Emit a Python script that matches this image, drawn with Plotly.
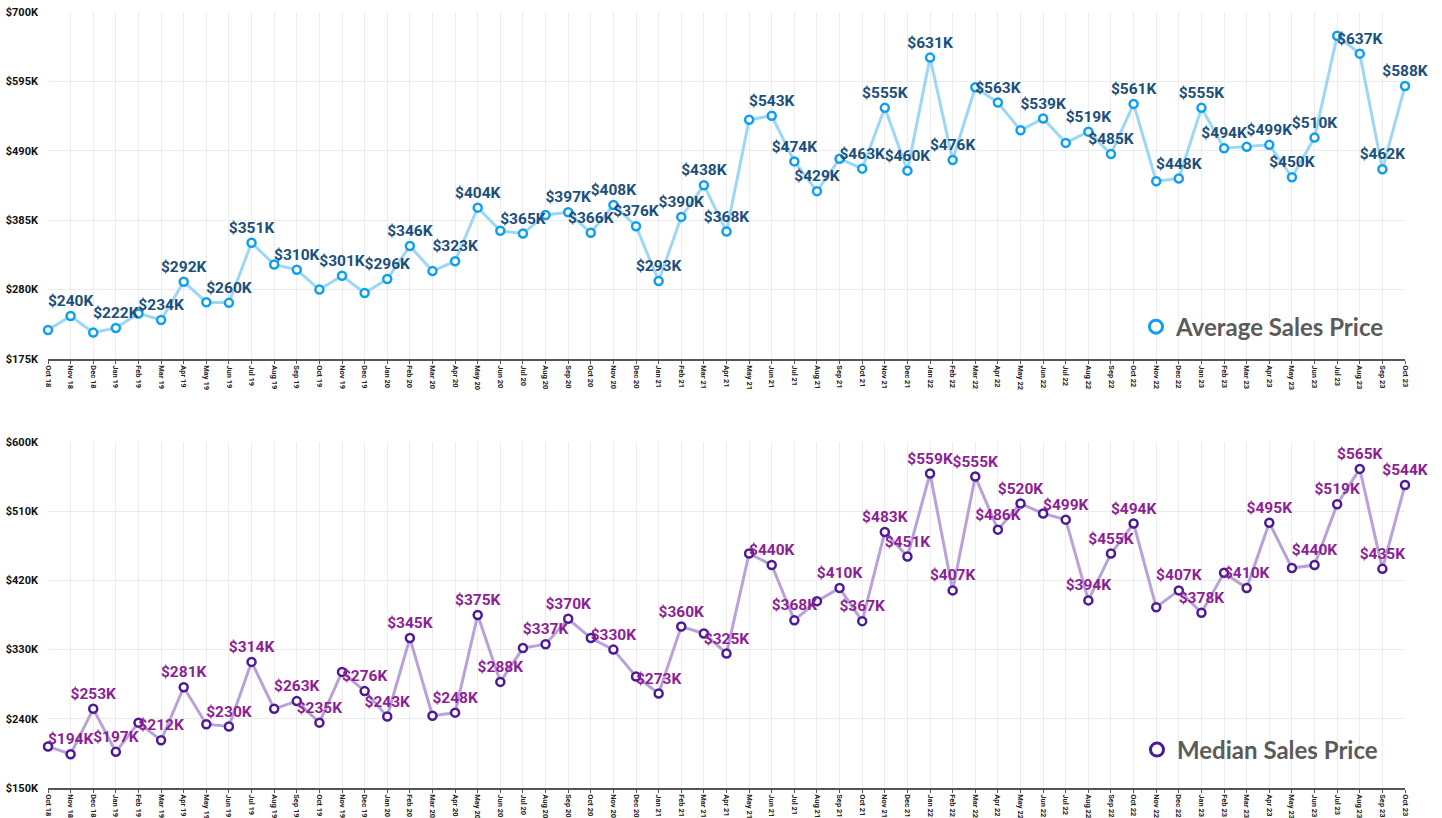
import plotly.graph_objects as go
from plotly.subplots import make_subplots

months = ["Oct 18", "Nov 18", "Dec 18", "Jan 19", "Feb 19", "Mar 19", "Apr 19", "May 19", "Jun 19", "Jul 19",
          "Aug 19", "Sep 19", "Oct 19", "Nov 19", "Dec 19", "Jan 20", "Feb 20", "Mar 20", "Apr 20", "May 20",
          "Jun 20", "Jul 20", "Aug 20", "Sep 20", "Oct 20", "Nov 20", "Dec 20", "Jan 21", "Feb 21", "Mar 21",
          "Apr 21", "May 21", "Jun 21", "Jul 21", "Aug 21", "Sep 21", "Oct 21", "Nov 21", "Dec 21", "Jan 22",
          "Feb 22", "Mar 22", "Apr 22", "May 22", "Jun 22", "Jul 22", "Aug 22", "Sep 22", "Oct 22", "Nov 22",
          "Dec 22", "Jan 23", "Feb 23", "Mar 23", "Apr 23", "May 23", "Jun 23", "Jul 23", "Aug 23", "Sep 23",
          "Oct 23"]

# values in $K
avg_price = [219, 240, 215, 222, 244, 234, 292, 261, 260, 351,
             318, 310, 280, 301, 275, 296, 346, 308, 323, 404,
             369, 365, 393, 397, 366, 408, 376, 293, 390, 438,
             368, 537, 543, 474, 429, 478, 463, 555, 460, 631,
             476, 586, 563, 521, 539, 502, 519, 485, 561, 444,
             448, 555, 494, 496, 499, 450, 510, 664, 637, 462,
             588]

med_price = [204, 194, 253, 197, 235, 212, 281, 233, 230, 314,
             253, 263, 235, 301, 276, 243, 345, 244, 248, 375,
             288, 332, 337, 370, 345, 330, 295, 273, 360, 351,
             325, 455, 440, 368, 393, 410, 367, 483, 451, 559,
             407, 555, 486, 520, 507, 499, 394, 455, 494, 385,
             407, 378, 430, 410, 495, 436, 440, 519, 565, 435,
             544]

# which points carry a visible value label
avg_labeled = [1, 3, 5, 6, 8, 9, 11, 13, 15, 16, 18, 19, 21, 23, 24, 25, 26, 27, 28, 29, 30,
               32, 33, 34, 36, 37, 38, 39, 40, 42, 44, 46, 47, 48, 50, 51, 52, 54, 55, 56, 58, 59, 60]
med_labeled = [1, 2, 3, 5, 6, 8, 9, 11, 12, 14, 15, 16, 18, 19, 20, 22, 23, 25, 27, 28, 30,
               32, 33, 35, 36, 37, 38, 39, 40, 41, 42, 43, 45, 46, 47, 48, 50, 51, 53, 54, 56, 57, 58, 59, 60]

avg_ticks = [175, 280, 385, 490, 595, 700]
med_ticks = [150, 240, 330, 420, 510, 600]

x = list(range(len(months)))
avg_text = [f"${v}K" if i in avg_labeled else "" for i, v in enumerate(avg_price)]
med_text = [f"${v}K" if i in med_labeled else "" for i, v in enumerate(med_price)]

AVG_LINE, AVG_MARK, AVG_TEXT = "#9dd7f6", "#0e9ff0", "#1b4f7c"
MED_LINE, MED_MARK, MED_TEXT = "#b8a2d8", "#4b1a98", "#8c1f97"

fig = make_subplots(rows=2, cols=1, vertical_spacing=0.1)

fig.add_trace(go.Scatter(
    x=x, y=avg_price, mode="lines+markers+text", name="Average Sales Price", showlegend=False,
    text=avg_text, textposition="top center",
    textfont=dict(family="Roboto", size=15.5, color=AVG_TEXT, weight="bold"),
    line=dict(color=AVG_LINE, width=3),
    marker=dict(symbol="circle", size=8, color="white", line=dict(color=AVG_MARK, width=2.5)),
    cliponaxis=False, hoverinfo="skip"), row=1, col=1)

fig.add_trace(go.Scatter(
    x=x, y=med_price, mode="lines+markers+text", name="Median Sales Price", showlegend=False,
    text=med_text, textposition="top center",
    textfont=dict(family="Roboto", size=15.5, color=MED_TEXT, weight="bold"),
    line=dict(color=MED_LINE, width=3),
    marker=dict(symbol="circle", size=8, color="white", line=dict(color=MED_MARK, width=2.5)),
    cliponaxis=False, hoverinfo="skip"), row=2, col=1)

# legend entries (icon = open circle)
fig.add_trace(go.Scatter(
    x=[None], y=[None], mode="markers", name="Average Sales Price", legend="legend",
    marker=dict(symbol="circle", size=13, color="white", line=dict(color=AVG_MARK, width=3))), row=1, col=1)
fig.add_trace(go.Scatter(
    x=[None], y=[None], mode="markers", name="Median Sales Price", legend="legend2",
    marker=dict(symbol="circle", size=13, color="white", line=dict(color=MED_MARK, width=3))), row=2, col=1)

xaxis_common = dict(
    tickmode="array", tickvals=x, ticktext=months, tickangle=90,
    tickfont=dict(family="Roboto", size=7.5, color="#222", weight="bold"),
    range=[0, 60], showgrid=True, gridcolor="#ececec", gridwidth=1,
    showline=True, linecolor="#555", linewidth=1.5, ticks="outside", ticklen=3, tickcolor="#555",
    zeroline=False, fixedrange=True, automargin=False)

fig.update_xaxes(**xaxis_common, domain=[0, 1])

fig.update_yaxes(row=1, col=1, domain=[0.5528, 1.0], range=[175, 700], tickmode="array",
                 tickvals=avg_ticks, ticktext=[f"${v}K" for v in avg_ticks])
fig.update_yaxes(row=2, col=1, domain=[0.0, 0.4459], range=[150, 600], tickmode="array",
                 tickvals=med_ticks, ticktext=[f"${v}K" for v in med_ticks])
fig.update_yaxes(showgrid=True, gridcolor="#ececec", gridwidth=1, zeroline=False, showline=False,
                 ticks="", ticklabelstandoff=9, automargin=False,
                 tickfont=dict(family="Roboto", size=11, color="#111", weight="bold"))

legend_common = dict(
    font=dict(family="Lato", size=24, color="#5b5b5b", weight="bold"),
    bgcolor="rgba(255,255,255,0)", xanchor="right", yanchor="middle",
    itemsizing="trace", itemwidth=30)

fig.update_layout(
    width=1442, height=818,
    margin=dict(l=48, r=37, t=12, b=30),
    paper_bgcolor="white", plot_bgcolor="white",
    showlegend=True,
    legend=dict(**legend_common, x=(1390 - 48) / 1357, y=0.5528 + (359 - 327) / 776),
    legend2=dict(**legend_common, x=(1383 - 48) / 1357, y=(788 - 750) / 776),
)

fig.write_html("out.html", config={"displayModeBar": False})

# remove the browser's default page margin so the figure fills the window
with open("out.html", "r", encoding="utf-8") as f:
    html = f.read()
html = html.replace("<body>", '<body style="margin:0;padding:0;overflow:hidden">', 1)
with open("out.html", "w", encoding="utf-8") as f:
    f.write(html)
